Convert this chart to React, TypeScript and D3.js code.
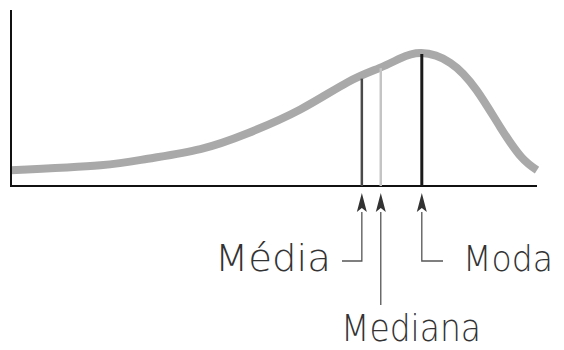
import React from 'react';
import * as d3 from 'd3';

// curve (arbitrary units, 0..100 both ways)
const curveX = [0, 17, 26, 36, 45, 55, 64, 70, 74, 78, 83.5, 88.5, 93, 97, 100];
const curveY = [9, 11.8, 15.5, 21, 30, 43.5, 59, 67, 72.5, 75.5, 70, 54.5, 33.5, 16.5, 9];

const markerNames = ['Média', 'Mediana', 'Moda'];
const markerX = [66.7, 70.3, 78.1];
const markerTop = [61, 67, 75];

const width = 564;
const height = 350;

const x = d3.scaleLinear().domain([0, 100]).range([11, 537]);
const y = d3.scaleLinear().domain([0, 100]).range([186, 10]);

const line = d3
  .line<number>()
  .x((d, i) => x(curveX[i]))
  .y(d => y(d))
  .curve(d3.curveNatural);

const markerStyle = [
  { stroke: '#4a4a4a', w: 2.5 },
  { stroke: '#c4c4c4', w: 2.5 },
  { stroke: '#1a1a1a', w: 3 },
];

// label layout (pixels)
const arrowTip = 193;
const arrowBase = 212;
const labels = [
  { stemEnd: 261, elbowTo: 342, tx: 215, ty: 271, tw: 116, fs: 38 },
  { stemEnd: 305, elbowTo: null, tx: 341, ty: 341, tw: 140, fs: 38 },
  { stemEnd: 261, elbowTo: 443, tx: 463, ty: 271, tw: 90, fs: 36 },
];

export default function App() {
  return (
    <svg
      width={width}
      height={height}
      style={{ position: 'absolute', left: 0, top: 0, background: '#fff' }}
    >
      {/* curve */}
      <path
        d={line(curveY) || ''}
        fill="none"
        stroke="#a9a9a9"
        strokeWidth={8}
        strokeLinecap="butt"
      />
      {/* axes */}
      <line x1={x(0)} x2={x(0)} y1={y(100)} y2={y(0)} stroke="#111" strokeWidth={2} />
      <line x1={x(0) - 1} x2={x(100)} y1={y(0)} y2={y(0)} stroke="#111" strokeWidth={2} />
      {/* markers */}
      {markerX.map((m, i) => (
        <line
          key={'m' + i}
          x1={x(m)}
          x2={x(m)}
          y1={y(0)}
          y2={y(markerTop[i])}
          stroke={markerStyle[i].stroke}
          strokeWidth={markerStyle[i].w}
        />
      ))}
      {/* arrows + labels */}
      {markerX.map((m, i) => {
        const px = x(m);
        const l = labels[i];
        const pts =
          l.elbowTo === null
            ? `${px},${arrowBase} ${px},${l.stemEnd}`
            : `${px},${arrowBase} ${px},${l.stemEnd} ${l.elbowTo},${l.stemEnd}`;
        return (
          <g key={'a' + i}>
            <polyline points={pts} fill="none" stroke="#555" strokeWidth={1.3} />
            <path
              d={`M${px},${arrowTip} L${px - 5},${arrowBase} L${px},${arrowBase - 4} L${px + 5},${arrowBase} Z`}
              fill="#333"
            />
            <text
              x={l.tx}
              y={l.ty}
              textLength={l.tw}
              lengthAdjust="spacingAndGlyphs"
              fontFamily="'DejaVu Sans', sans-serif"
              fontWeight={200}
              fontSize={l.fs}
              fill="#333"
            >
              {markerNames[i]}
            </text>
          </g>
        );
      })}
    </svg>
  );
}
